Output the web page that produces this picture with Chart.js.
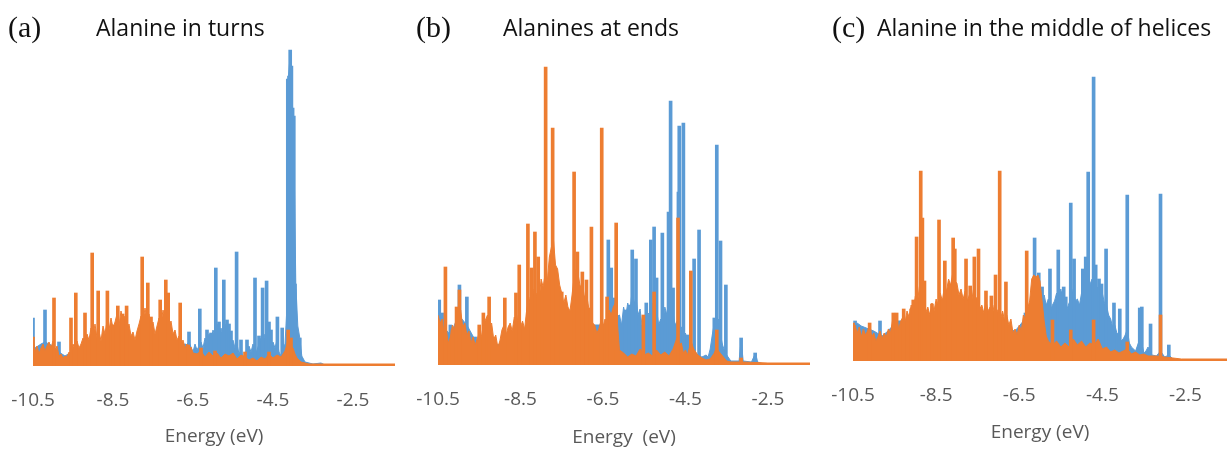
<!DOCTYPE html>
<html>
<head>
<meta charset="utf-8">
<script src="https://cdn.jsdelivr.net/npm/chart.js@4/dist/chart.umd.min.js"></script>
<style>
  body { margin: 0; background: #fff; }
  #wrap { position: relative; width: 1230px; height: 453px; overflow: hidden; }
  canvas { position: absolute; top: 0; }
  .tag { position: absolute; font-family: "Liberation Serif", serif; font-size: 30px; line-height: 1; color: #111; }
  .ttl { position: absolute; font-family: "Open Sans", sans-serif; font-size: 23px; line-height: 1; color: #111; }
</style>
</head>
<body>
<div id="wrap">
  <canvas id="chartA" width="410" height="453" style="left:0px"></canvas>
  <canvas id="chartB" width="410" height="453" style="left:410px"></canvas>
  <canvas id="chartC" width="410" height="453" style="left:820px"></canvas>
  <div class="tag" style="left:8px;top:12px">(a)</div>
  <div class="ttl" style="left:96px;top:16px">Alanine in turns</div>
  <div class="tag" style="left:416px;top:12px">(b)</div>
  <div class="ttl" style="left:503px;top:16px">Alanines at ends</div>
  <div class="tag" style="left:832px;top:12px">(c)</div>
  <div class="ttl" style="left:877px;top:16px">Alanine in the middle of helices</div>
</div>
<script>
  // x axis ticks (eV)
  const tickLabels = [-10.5, -8.5, -6.5, -4.5, -2.5];

  // (a) Alanine in turns — [energy, intensity]
  const turnsBlueBulk = [
    [-10.5, 25], [-10.45, 18], [-10.3, 22], [-10.2, 24], [-10.0, 20], [-9.85, 14], [-9.7, 10], [-9.5, 15],
    [-9.0, 20], [-8.0, 25], [-7.0, 25], [-6.7, 20], [-6.6, 24], [-6.5, 14], [-6.45, 22], [-6.4, 16],
    [-6.3, 24], [-6.25, 18], [-6.2, 28], [-6.15, 22], [-6.1, 32], [-6.05, 26], [-6.0, 36], [-5.95, 30],
    [-5.9, 42], [-5.85, 32], [-5.8, 38], [-5.75, 30], [-5.7, 42], [-5.65, 34], [-5.6, 30], [-5.55, 24],
    [-5.5, 26], [-5.45, 18], [-5.4, 22], [-5.35, 12], [-5.3, 16], [-5.25, 9], [-5.2, 12], [-5.15, 16],
    [-5.1, 20], [-5.05, 14], [-5.0, 22], [-4.95, 12], [-4.9, 16], [-4.85, 22], [-4.8, 28], [-4.75, 24],
    [-4.7, 32], [-4.65, 26], [-4.6, 28], [-4.55, 20], [-4.5, 24], [-4.45, 18], [-4.4, 26], [-4.35, 14],
    [-4.3, 10], [-4.25, 18], [-4.2, 22], [-4.15, 60], [-4.12, 287], [-4.06, 316], [-4.01, 258],
    [-3.97, 200], [-3.93, 82], [-3.88, 40], [-3.83, 28], [-3.78, 10], [-3.7, 4], [-3.5, 2], [-3.3, 3],
    [-3.2, 1], [-1.45, 1]
  ];
  const turnsBluePeaks = [
    [-10.5, 48], [-10.2, 56], [-9.85, 24], [-6.72, 22], [-6.6, 34], [-6.33, 57], [-6.15, 36], [-6.05, 33],
    [-5.93, 98], [-5.85, 44], [-5.73, 86], [-5.65, 46], [-5.6, 42], [-5.55, 35], [-5.41, 114], [-5.3, 26],
    [-5.15, 26], [-4.95, 88], [-4.85, 30], [-4.76, 78], [-4.66, 85], [-4.6, 44], [-4.55, 36], [-4.39, 49],
    [-4.27, 38], [-4.2, 20], [-4.13, 287], [-4.1, 290], [-4.07, 316], [-4.04, 300], [-4.01, 258],
    [-3.98, 250], [-3.95, 82], [-3.83, 28]
  ];
  const turnsOrangeBulk = [
    [-10.5, 28], [-10.45, 14], [-10.4, 20], [-10.35, 12], [-10.3, 18], [-10.25, 22], [-10.2, 15], [-10.15, 20],
    [-10.1, 24], [-10.05, 18], [-10.0, 25], [-9.95, 14], [-9.9, 20], [-9.85, 10], [-9.8, 12], [-9.75, 8],
    [-9.7, 10], [-9.65, 9], [-9.6, 14], [-9.55, 12], [-9.5, 22], [-9.45, 16], [-9.4, 25], [-9.35, 18],
    [-9.3, 22], [-9.25, 28], [-9.2, 24], [-9.15, 32], [-9.1, 26], [-9.05, 38], [-9.0, 30], [-8.95, 42],
    [-8.9, 28], [-8.85, 35], [-8.8, 25], [-8.75, 40], [-8.7, 32], [-8.65, 45], [-8.6, 36], [-8.55, 48],
    [-8.5, 38], [-8.45, 44], [-8.4, 52], [-8.35, 40], [-8.3, 55], [-8.25, 45], [-8.2, 50], [-8.15, 38],
    [-8.1, 42], [-8.05, 30], [-8.0, 34], [-7.95, 26], [-7.9, 35], [-7.85, 42], [-7.8, 50], [-7.75, 45],
    [-7.7, 58], [-7.65, 46], [-7.6, 52], [-7.55, 40], [-7.5, 44], [-7.45, 32], [-7.4, 40], [-7.35, 48],
    [-7.3, 42], [-7.25, 56], [-7.2, 48], [-7.15, 55], [-7.1, 40], [-7.05, 45], [-7.0, 32], [-6.95, 36],
    [-6.9, 26], [-6.85, 30], [-6.8, 22], [-6.75, 26], [-6.7, 18], [-6.65, 22], [-6.6, 16], [-6.55, 19],
    [-6.5, 13], [-6.4, 12], [-6.3, 15], [-6.2, 9], [-6.1, 14], [-6.0, 10], [-5.9, 13], [-5.8, 8],
    [-5.7, 12], [-5.6, 10], [-5.5, 13], [-5.4, 7], [-5.3, 11], [-5.2, 9], [-5.1, 6], [-5.0, 8],
    [-4.9, 5], [-4.8, 9], [-4.7, 7], [-4.6, 12], [-4.5, 8], [-4.4, 11], [-4.3, 9], [-4.2, 15],
    [-4.15, 22], [-4.1, 30], [-4.05, 20], [-4.0, 18], [-3.95, 12], [-3.9, 8], [-3.8, 4], [-3.6, 2],
    [-1.45, 2]
  ];
  const turnsOrangePeaks = [
    [-10.5, 29], [-9.975, 68], [-9.55, 48], [-9.43, 73], [-9.2, 53], [-9.02, 113], [-8.87, 75], [-8.64, 75],
    [-8.5, 41], [-8.38, 60], [-8.26, 52], [-8.16, 60], [-7.77, 109], [-7.63, 83], [-7.55, 49], [-7.32, 66],
    [-7.18, 86], [-7.12, 73], [-6.82, 63], [-6.62, 21], [-6.3, 18], [-5.95, 15], [-5.2, 14], [-4.6, 14],
    [-4.12, 36], [-4.05, 28]
  ];

  // (b) Alanines at ends
  const endsBlueBulk = [
    [-10.5, 55], [-10.4, 50], [-10.3, 35], [-10.2, 30], [-10.0, 50], [-9.8, 40], [-9.6, 25], [-9.0, 20],
    [-8.0, 40], [-7.0, 40], [-6.5, 40], [-6.1, 50], [-6.05, 40], [-6.0, 58], [-5.95, 48], [-5.9, 62],
    [-5.85, 52], [-5.8, 72], [-5.75, 60], [-5.7, 68], [-5.65, 50], [-5.6, 56], [-5.55, 38], [-5.5, 44],
    [-5.45, 36], [-5.4, 52], [-5.35, 46], [-5.3, 62], [-5.25, 50], [-5.2, 56], [-5.15, 40], [-5.1, 46],
    [-5.05, 42], [-5.0, 58], [-4.95, 50], [-4.9, 72], [-4.85, 60], [-4.8, 52], [-4.75, 40], [-4.7, 44],
    [-4.65, 36], [-4.6, 38], [-4.55, 28], [-4.5, 32], [-4.45, 24], [-4.4, 28], [-4.35, 18], [-4.3, 22],
    [-4.25, 12], [-4.2, 10], [-4.1, 8], [-4.0, 10], [-3.95, 8], [-3.9, 16], [-3.85, 30], [-3.8, 42],
    [-3.75, 38], [-3.7, 46], [-3.65, 30], [-3.6, 20], [-3.55, 14], [-3.5, 10], [-3.4, 4], [-3.2, 4],
    [-3.15, 25], [-3.1, 4], [-2.9, 3], [-2.8, 12], [-2.75, 3], [-2.6, 1], [-1.48, 0]
  ];
  const endsBluePeaks = [
    [-10.47, 65], [-10.4, 52], [-10.2, 40], [-9.98, 80], [-9.8, 68], [-9.6, 28], [-6.37, 125], [-6.3, 97],
    [-6.22, 67], [-5.95, 55], [-5.85, 60], [-5.79, 115], [-5.7, 106], [-5.62, 40], [-5.45, 62], [-5.34, 125],
    [-5.26, 138], [-5.2, 87], [-5.06, 132], [-4.98, 40], [-4.91, 153], [-4.86, 264], [-4.8, 77], [-4.67, 173],
    [-4.65, 239], [-4.55, 242], [-4.45, 30], [-4.29, 106], [-4.17, 135], [-3.8, 47], [-3.74, 220],
    [-3.65, 124], [-3.52, 80], [-3.15, 27], [-2.81, 12]
  ];
  const endsOrangeBulk = [
    [-10.5, 50], [-10.45, 42], [-10.4, 46], [-10.35, 30], [-10.3, 35], [-10.25, 22], [-10.2, 28], [-10.15, 40],
    [-10.1, 35], [-10.05, 52], [-10.0, 45], [-9.95, 55], [-9.9, 38], [-9.85, 42], [-9.8, 30], [-9.75, 34],
    [-9.7, 22], [-9.65, 28], [-9.6, 20], [-9.55, 26], [-9.5, 32], [-9.45, 28], [-9.4, 40], [-9.35, 45],
    [-9.3, 50], [-9.25, 38], [-9.2, 42], [-9.15, 26], [-9.1, 30], [-9.05, 18], [-9.0, 24], [-8.95, 35],
    [-8.9, 40], [-8.85, 30], [-8.8, 38], [-8.75, 42], [-8.7, 34], [-8.65, 48], [-8.6, 40], [-8.55, 50],
    [-8.5, 38], [-8.45, 44], [-8.4, 36], [-8.35, 55], [-8.3, 68], [-8.25, 58], [-8.2, 76], [-8.15, 62],
    [-8.1, 72], [-8.05, 64], [-8.0, 86], [-7.95, 78], [-7.9, 92], [-7.85, 84], [-7.8, 108], [-7.75, 118],
    [-7.7, 125], [-7.65, 100], [-7.6, 96], [-7.55, 80], [-7.5, 72], [-7.45, 62], [-7.4, 70], [-7.35, 58],
    [-7.3, 54], [-7.25, 70], [-7.2, 88], [-7.15, 96], [-7.1, 90], [-7.05, 78], [-7.0, 82], [-6.95, 68],
    [-6.9, 72], [-6.85, 58], [-6.8, 55], [-6.75, 42], [-6.7, 40], [-6.65, 32], [-6.6, 36], [-6.55, 44],
    [-6.5, 38], [-6.45, 46], [-6.4, 42], [-6.35, 55], [-6.3, 50], [-6.25, 58], [-6.2, 62], [-6.15, 42],
    [-6.1, 15], [-6.0, 12], [-5.9, 8], [-5.8, 11], [-5.7, 9], [-5.6, 16], [-5.5, 10], [-5.4, 12],
    [-5.3, 9], [-5.2, 15], [-5.1, 10], [-5.0, 13], [-4.9, 9], [-4.8, 16], [-4.75, 22], [-4.7, 28],
    [-4.65, 20], [-4.6, 22], [-4.55, 12], [-4.5, 15], [-4.45, 10], [-4.4, 18], [-4.35, 22], [-4.3, 16],
    [-4.2, 10], [-4.1, 7], [-4.0, 5], [-3.9, 6], [-3.8, 12], [-3.75, 18], [-3.7, 14], [-3.6, 9],
    [-3.5, 4], [-3.4, 3], [-3.1, 3], [-2.5, 2], [-1.48, 2]
  ];
  const endsOrangePeaks = [
    [-10.32, 98], [-10.15, 35], [-10.05, 58], [-9.98, 75], [-9.5, 40], [-9.4, 52], [-9.26, 68], [-8.88, 67],
    [-8.61, 72], [-8.53, 100], [-8.32, 141], [-8.23, 97], [-8.15, 133], [-8.07, 108], [-7.89, 298],
    [-7.72, 237], [-7.5, 73], [-7.2, 193], [-7.12, 113], [-7.0, 93], [-6.9, 85], [-6.78, 138], [-6.53, 237],
    [-6.4, 68], [-6.18, 142], [-5.52, 50], [-5.26, 73], [-4.68, 147], [-4.37, 94], [-3.74, 35], [-3.15, 7]
  ];

  // (c) Alanine in the middle of helices
  const middleBlueBulk = [
    [-10.5, 28], [-10.4, 38], [-10.3, 35], [-10.0, 30], [-9.8, 25], [-9.6, 32], [-9.5, 40], [-9.0, 40],
    [-8.0, 40], [-7.0, 35], [-6.6, 30], [-6.4, 40], [-6.2, 60], [-6.15, 52], [-6.1, 62], [-6.05, 56],
    [-6.0, 64], [-5.95, 54], [-5.9, 66], [-5.85, 56], [-5.8, 62], [-5.75, 50], [-5.7, 56], [-5.65, 60],
    [-5.6, 68], [-5.55, 58], [-5.5, 72], [-5.45, 62], [-5.4, 64], [-5.35, 52], [-5.3, 58], [-5.25, 62],
    [-5.2, 72], [-5.15, 60], [-5.1, 62], [-5.05, 56], [-5.0, 68], [-4.95, 74], [-4.9, 88], [-4.85, 78],
    [-4.8, 76], [-4.75, 82], [-4.7, 84], [-4.65, 72], [-4.6, 74], [-4.55, 64], [-4.5, 68], [-4.45, 58],
    [-4.4, 56], [-4.35, 46], [-4.3, 42], [-4.25, 34], [-4.2, 36], [-4.15, 28], [-4.1, 26], [-4.05, 20],
    [-4.0, 22], [-3.95, 26], [-3.9, 32], [-3.85, 18], [-3.8, 14], [-3.7, 10], [-3.65, 16], [-3.6, 22],
    [-3.55, 18], [-3.5, 8], [-3.45, 10], [-3.4, 14], [-3.35, 8], [-3.3, 6], [-3.2, 5], [-3.1, 10],
    [-3.0, 4], [-2.9, 6], [-2.8, 2], [-2.7, 1], [-1.5, 0]
  ];
  const middleBluePeaks = [
    [-10.45, 40], [-10.25, 32], [-9.85, 40], [-9.6, 32], [-6.35, 48], [-6.13, 123], [-6.03, 88], [-5.95, 74],
    [-5.76, 92], [-5.56, 111], [-5.5, 69], [-5.43, 74], [-5.38, 64], [-5.26, 158], [-5.18, 102], [-4.97, 92],
    [-4.9, 104], [-4.84, 189], [-4.71, 284], [-4.66, 96], [-4.58, 82], [-4.52, 77], [-4.41, 112],
    [-4.22, 58], [-4.08, 52], [-3.9, 166], [-3.6, 53], [-3.55, 54], [-3.34, 37], [-3.1, 167], [-2.9, 16]
  ];
  const middleOrangeBulk = [
    [-10.5, 30], [-10.45, 36], [-10.4, 28], [-10.35, 34], [-10.3, 24], [-10.25, 32], [-10.2, 26], [-10.15, 30],
    [-10.1, 36], [-10.05, 24], [-10.0, 28], [-9.95, 20], [-9.9, 24], [-9.85, 30], [-9.8, 22], [-9.75, 28],
    [-9.7, 24], [-9.65, 32], [-9.6, 28], [-9.55, 40], [-9.5, 34], [-9.45, 42], [-9.4, 32], [-9.35, 40],
    [-9.3, 44], [-9.25, 38], [-9.2, 50], [-9.15, 44], [-9.1, 56], [-9.05, 50], [-9.0, 65], [-8.95, 58],
    [-8.9, 75], [-8.85, 68], [-8.8, 60], [-8.75, 48], [-8.7, 54], [-8.65, 46], [-8.6, 58], [-8.55, 50],
    [-8.5, 62], [-8.45, 56], [-8.4, 68], [-8.35, 60], [-8.3, 75], [-8.25, 70], [-8.2, 82], [-8.15, 76],
    [-8.1, 88], [-8.05, 80], [-8.0, 78], [-7.95, 66], [-7.9, 72], [-7.85, 62], [-7.8, 70], [-7.75, 60],
    [-7.7, 66], [-7.65, 58], [-7.6, 72], [-7.55, 64], [-7.5, 62], [-7.45, 52], [-7.4, 56], [-7.35, 48],
    [-7.3, 60], [-7.25, 50], [-7.2, 54], [-7.15, 46], [-7.1, 56], [-7.05, 48], [-7.0, 52], [-6.95, 42],
    [-6.9, 50], [-6.85, 40], [-6.8, 46], [-6.75, 36], [-6.7, 42], [-6.65, 28], [-6.6, 32], [-6.55, 26],
    [-6.5, 36], [-6.45, 30], [-6.4, 46], [-6.35, 42], [-6.3, 52], [-6.25, 60], [-6.2, 82], [-6.15, 86],
    [-6.1, 84], [-6.05, 86], [-6.0, 80], [-5.95, 60], [-5.9, 40], [-5.85, 25], [-5.8, 20], [-5.7, 16],
    [-5.6, 20], [-5.5, 14], [-5.4, 18], [-5.3, 14], [-5.2, 22], [-5.1, 16], [-5.0, 20], [-4.9, 14],
    [-4.8, 18], [-4.7, 16], [-4.6, 22], [-4.5, 12], [-4.4, 14], [-4.3, 9], [-4.2, 11], [-4.1, 8],
    [-4.0, 10], [-3.9, 12], [-3.8, 7], [-3.7, 9], [-3.6, 6], [-3.5, 7], [-3.4, 5], [-3.2, 5],
    [-3.0, 4], [-2.8, 3], [-2.6, 2], [-1.5, 2]
  ];
  const middleOrangePeaks = [
    [-10.5, 38], [-10.1, 38], [-9.53, 48], [-9.45, 48], [-9.28, 52], [-9.1, 52], [-9.05, 61], [-8.97, 124],
    [-8.87, 190], [-8.83, 143], [-8.78, 80], [-8.6, 57], [-8.43, 141], [-8.35, 62], [-8.29, 100],
    [-8.09, 123], [-8.05, 112], [-7.78, 102], [-7.68, 75], [-7.58, 104], [-7.48, 112], [-7.3, 70],
    [-7.17, 65], [-7.07, 86], [-6.97, 190], [-6.82, 79], [-6.32, 110], [-5.7, 41], [-5.26, 31],
    [-4.71, 41], [-3.9, 19], [-3.1, 46]
  ];

  const BLUE = "#5b9bd5";
  const ORANGE = "#ed7d31";
  const pts = (arr) => arr.map(([x, y]) => ({ x, y }));

  function bulk(arr, color, order) {
    return {
      type: "line",
      data: pts(arr),
      borderColor: color,
      backgroundColor: color,
      borderWidth: 1,
      pointRadius: 0,
      tension: 0,
      fill: "origin",
      order,
    };
  }

  function peaks(arr, color, order) {
    return {
      type: "bar",
      data: pts(arr),
      backgroundColor: color,
      borderWidth: 0,
      barThickness: 3,
      grouped: false,
      order,
    };
  }

  function makePanel(id, cfg) {
    new Chart(document.getElementById(id), {
      type: "bar",
      data: {
        datasets: [
          peaks(cfg.orangePeaks, ORANGE, 1),
          bulk(cfg.orangeBulk, ORANGE, 2),
          peaks(cfg.bluePeaks, BLUE, 3),
          bulk(cfg.blueBulk, BLUE, 4),
        ],
      },
      options: {
        responsive: false,
        animation: false,
        events: [],
        layout: { padding: { left: cfg.left, right: cfg.right, top: cfg.top, bottom: 0 } },
        plugins: { legend: { display: false }, tooltip: { enabled: false } },
        scales: {
          x: {
            type: "linear",
            min: -10.5,
            max: cfg.max,
            offset: false,
            grid: { display: false, drawTicks: false },
            border: { display: false },
            afterBuildTicks: (scale) => {
              scale.ticks = tickLabels.map((v) => ({ value: v }));
            },
            afterFit: (scale) => {
              scale.height = cfg.axisH;
              scale.paddingLeft = 0;
              scale.paddingRight = 0;
            },
            ticks: {
              padding: 23,
              color: "#595959",
              font: { family: "Open Sans", size: 19 },
              maxRotation: 0,
              callback: (v) => v.toFixed(1),
            },
            title: {
              display: true,
              text: cfg.xTitle,
              color: "#595959",
              font: { family: "Open Sans", size: 19 },
              padding: { top: 0, bottom: cfg.titlePad },
            },
          },
          y: { display: false, min: 0, max: 330 },
        },
      },
    });
  }

  makePanel("chartA", {
    blueBulk: turnsBlueBulk, bluePeaks: turnsBluePeaks,
    orangeBulk: turnsOrangeBulk, orangePeaks: turnsOrangePeaks,
    left: 33, right: 15, top: 36, axisH: 87, titlePad: 5, max: -1.45, xTitle: "Energy (eV)",
  });
  makePanel("chartB", {
    blueBulk: endsBlueBulk, bluePeaks: endsBluePeaks,
    orangeBulk: endsOrangeBulk, orangePeaks: endsOrangePeaks,
    left: 28, right: 10, top: 35, axisH: 88, titlePad: 4, max: -1.48, xTitle: "Energy  (eV)",
  });
  makePanel("chartC", {
    blueBulk: middleBlueBulk, bluePeaks: middleBluePeaks,
    orangeBulk: middleOrangeBulk, orangePeaks: middleOrangePeaks,
    left: 33, right: 3, top: 31, axisH: 92, titlePad: 9, max: -1.5, xTitle: "Energy (eV)",
  });
</script>
</body>
</html>
